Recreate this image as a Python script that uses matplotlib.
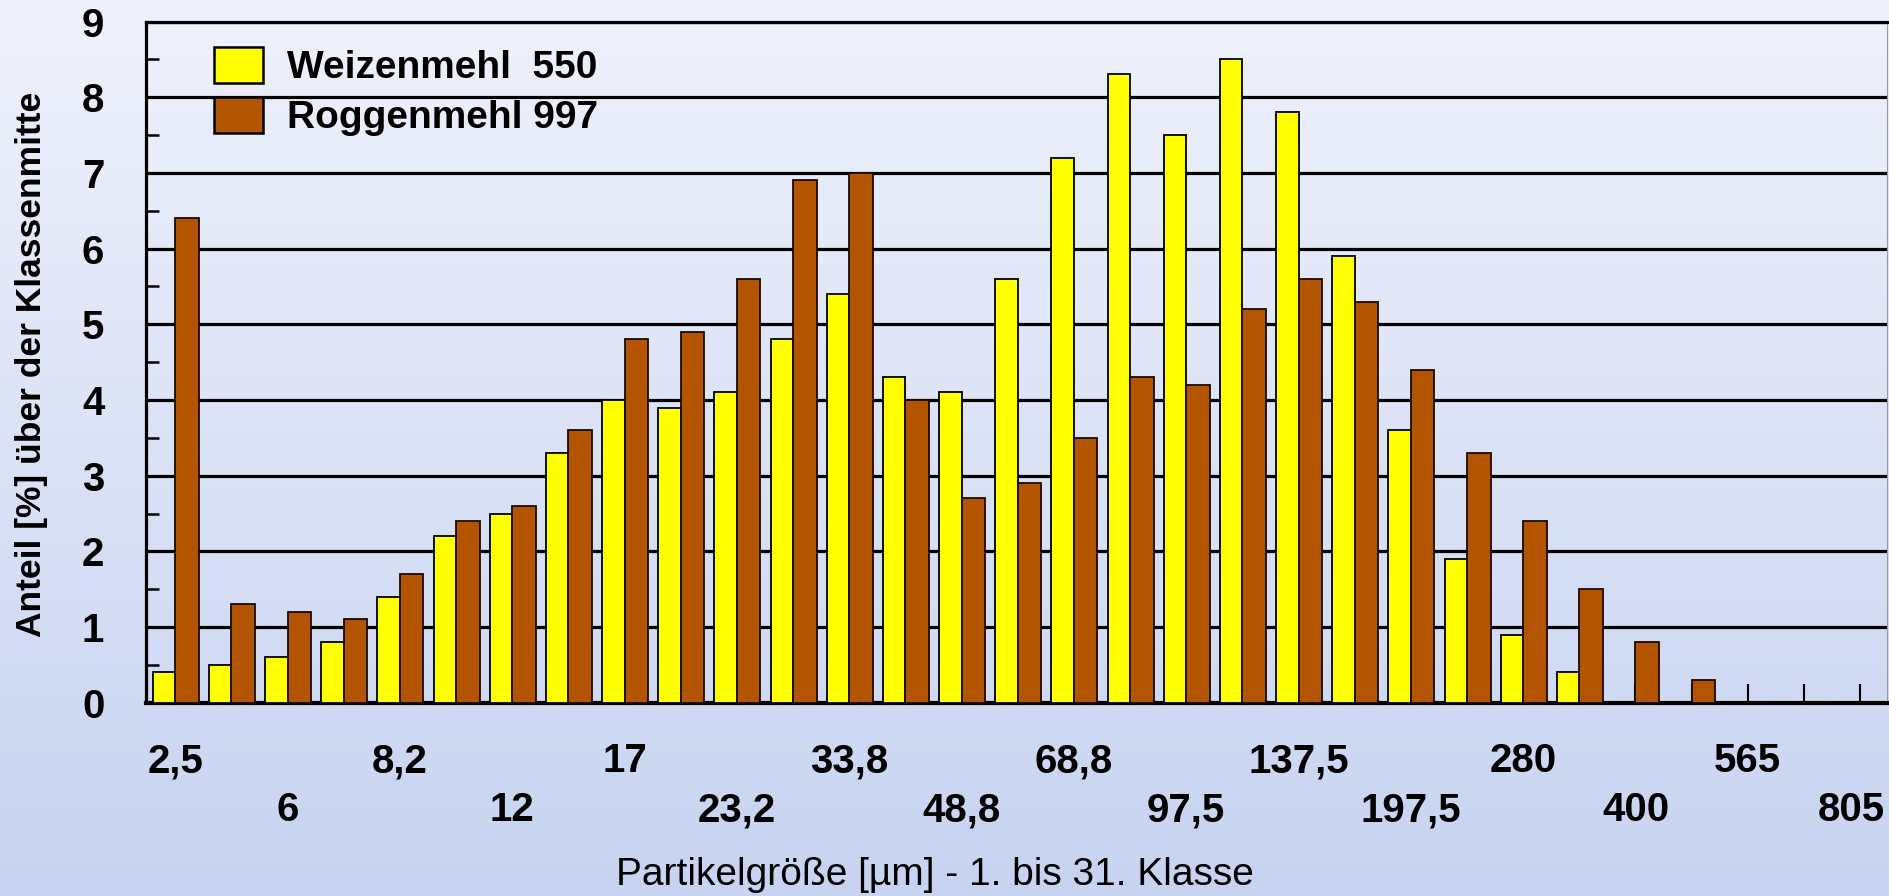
import numpy as np
import matplotlib
matplotlib.use("Agg")
import matplotlib.pyplot as plt
from matplotlib.patches import Patch
from matplotlib.transforms import ScaledTranslation

# Particle size classes (class centre in µm), labelled on every second class
class_labels = ["2,5", "6", "8,2", "12", "17", "23,2", "33,8", "48,8",
                "68,8", "97,5", "137,5", "197,5", "280", "400", "565", "805"]
n_classes = 31

# Share [%] per class
weizenmehl_550 = [0.4, 0.5, 0.6, 0.8, 1.4, 2.2, 2.5, 3.3, 4.0, 3.9, 4.1, 4.8,
                  5.4, 4.3, 4.1, 5.6, 7.2, 8.3, 7.5, 8.5, 7.8, 5.9, 3.6, 1.9,
                  0.9, 0.4, 0.0, 0.0, 0.0, 0.0, 0.0]
roggenmehl_997 = [6.4, 1.3, 1.2, 1.1, 1.7, 2.4, 2.6, 3.6, 4.8, 4.9, 5.6, 6.9,
                  7.0, 4.0, 2.7, 2.9, 3.5, 4.3, 4.2, 5.2, 5.6, 5.3, 4.4, 3.3,
                  2.4, 1.5, 0.8, 0.3, 0.0, 0.0, 0.0]

YELLOW = "#FFFF00"
BROWN = "#B35500"
FONT = "Liberation Sans"

plt.rcParams["font.family"] = [FONT, "DejaVu Sans"]

fig = plt.figure(figsize=(18.89, 8.96), dpi=100)

# Soft vertical gradient behind everything
bg = fig.add_axes([0, 0, 1, 1], zorder=-10)
grad = np.linspace(0, 1, 256).reshape(-1, 1)
top_c = np.array([239, 242, 252]) / 255
bot_c = np.array([199, 211, 240]) / 255
img = top_c * (1 - grad[..., None]) + bot_c * grad[..., None]
bg.imshow(img, aspect="auto", extent=[0, 1, 0, 1])
bg.set_axis_off()

ax = fig.add_axes([0.0773, 0.2157, 0.9217, 0.7603])
ax.set_facecolor("none")

x = np.arange(n_classes)
w_y = 0.40
w_b = 0.42
ax.bar(x - w_y / 2, weizenmehl_550, width=w_y, color=YELLOW,
       edgecolor="black", linewidth=1.3, zorder=3)
ax.bar(x + w_b / 2, roggenmehl_997, width=w_b, color=BROWN,
       edgecolor="#1a0a00", linewidth=1.3, zorder=3)

ax.set_xlim(-0.52, n_classes - 0.52)
ax.set_ylim(0, 9)

# y axis: integer gridlines, half-step inward ticks
ax.set_yticks(np.arange(0, 10))
ax.set_yticks(np.arange(0.5, 9, 1), minor=True)
ax.yaxis.grid(True, which="major", color="black", linewidth=2.3, zorder=0)
ax.set_axisbelow(True)
ax.tick_params(axis="y", which="major", length=0, pad=30,
               labelsize=29)
ax.tick_params(axis="y", which="minor", direction="in", length=9.5,
               width=1.8, color="black")
for lab in ax.get_yticklabels():
    lab.set_fontweight("bold")

# x axis: inward tick at every class, labels staggered in two rows
ax.set_xticks(x)
xt = []
for i in range(n_classes):
    if i % 2:
        xt.append("")
    else:
        lab = class_labels[i // 2]
        xt.append(lab if i % 4 == 0 else "\n" + lab)
ax.set_xticklabels(xt, fontsize=29, fontweight="bold", linespacing=1.36)
ax.tick_params(axis="x", which="major", direction="in", length=14,
               width=1.5, color="black", pad=28.5)

# keep the last class label inside the figure edge
last = ax.get_xticklabels()[-1]
last.set_transform(last.get_transform()
                   + ScaledTranslation(-0.09, 0, fig.dpi_scale_trans))

for side in ("left", "bottom", "top"):
    ax.spines[side].set_color("black")
ax.spines["left"].set_linewidth(2.3)
ax.spines["bottom"].set_linewidth(3.0)
ax.spines["top"].set_linewidth(2.3)
ax.spines["right"].set_color("#9a9a9a")
ax.spines["right"].set_linewidth(0.8)

ax.set_ylabel("Anteil [%] über der Klassenmitte", fontsize=25.5,
              fontweight="bold")
ax.yaxis.set_label_coords(-0.0563, 0.497)
ax.set_xlabel("Partikelgröße [µm] - 1. bis 31. Klasse", fontsize=28)
ax.xaxis.label.set_va("center")
ax.xaxis.set_label_coords(0.453, -0.253)

handles = [Patch(facecolor=YELLOW, edgecolor="black", linewidth=1.8),
           Patch(facecolor=BROWN, edgecolor="black", linewidth=1.8)]
leg = ax.legend(handles, ["Weizenmehl  550", "Roggenmehl 997"],
                loc="upper left", bbox_to_anchor=(0.039, 0.962),
                frameon=False, borderpad=0, borderaxespad=0,
                handlelength=1.25, handleheight=1.03, handletextpad=0.62,
                labelspacing=0.28,
                prop={"family": FONT, "weight": "bold", "size": 28})

fig.savefig("out.png", dpi=100)
